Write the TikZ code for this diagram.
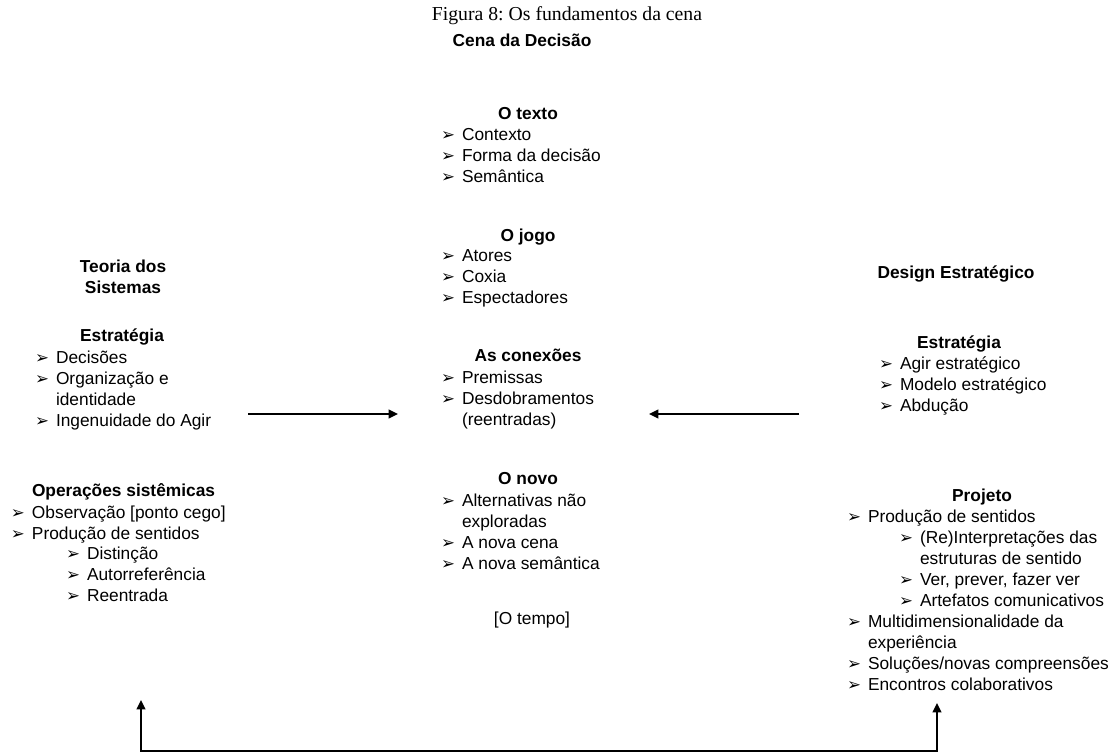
\documentclass[tikz,border=0pt]{standalone}
\usepackage{fontspec}
\setmainfont{Liberation Sans}
\newfontfamily\capfont{Liberation Serif}
\newfontfamily\symfont{DejaVu Sans}
\usetikzlibrary{arrows.meta}
\frenchspacing

% arrowhead bullet
\newcommand\bul{{\symfont\fontsize{12.5}{12.5}\selectfont ➢}}
% bulleted block: first column holds the bullet, second the text
\newenvironment{blist}{\begin{tabular}[t]{@{}p{15.75pt}@{}l@{}}}{\end{tabular}}

\tikzset{
  body/.style={inner sep=0pt, outer sep=0pt, font=\fontsize{13}{15.75}\selectfont},
  head/.style={body, anchor=base, font=\fontsize{13}{15.75}\selectfont\bfseries},
  items/.style={body, anchor=base west},
  link/.style={line width=1.5pt, -{Triangle[length=7pt,width=6.5pt]}},
}

\begin{document}
\begin{tikzpicture}[x=0.75pt, y=-0.75pt]
\useasboundingbox (0,0) rectangle (1112,753);

% title lines
\node[inner sep=0pt, anchor=base, font=\capfont\fontsize{14.8}{17}\selectfont] (caption) at (567,21) {Figura 8: Os fundamentos da cena};
\node[head] (scene) at (522,46) {Cena da Decisão};

% centre column
\node[head] (texto) at (528,119) {O texto};
\node[items] (textoL) at (441,140) {\begin{blist}
  \bul & Contexto\\
  \bul & Forma da decisão\\
  \bul & Semântica
\end{blist}};

\node[head] (jogo) at (528,241) {O jogo};
\node[items] (jogoL) at (441,261) {\begin{blist}
  \bul & Atores\\
  \bul & Coxia\\
  \bul & Espectadores
\end{blist}};

\node[head] (conex) at (528,361) {As conexões};
\node[items] (conexL) at (441,383) {\begin{blist}
  \bul & Premissas\\
  \bul & Desdobramentos\\
       & (reentradas)
\end{blist}};

\node[head] (novo) at (528,484) {O novo};
\node[items] (novoL) at (441,506) {\begin{blist}
  \bul & Alternativas não\\
       & exploradas\\
  \bul & A nova cena\\
  \bul & A nova semântica
\end{blist}};

\node[body, anchor=base] (tempo) at (532,624) {[O tempo]};

% left column
\node[head] (teoria) at (123,272) {\begin{tabular}[t]{@{}c@{}}Teoria dos\\ Sistemas\end{tabular}};
\node[head] (estrL) at (122,341) {Estratégia};
\node[items] (estrLL) at (35,363) {\begin{blist}
  \bul & Decisões\\
  \bul & Organização e\\
       & identidade\\
  \bul & Ingenuidade do Agir
\end{blist}};

\node[body, anchor=base west, font=\fontsize{13}{15.75}\selectfont\bfseries] (oper) at (32,496) {Operações sistêmicas};
\node[items] (operL) at (11,518) {\begin{blist}
  \bul & Observação [ponto cego]\\
  \bul & Produção de sentidos
\end{blist}};
\node[items] (operS) at (66,559) {\begin{blist}
  \bul & Distinção\\
  \bul & Autorreferência\\
  \bul & Reentrada
\end{blist}};

% right column
\node[head] (design) at (956,278) {Design Estratégico};
\node[head] (estrR) at (959,348) {Estratégia};
\node[items] (estrRL) at (879,369) {\begin{blist}
  \bul & Agir estratégico\\
  \bul & Modelo estratégico\\
  \bul & Abdução
\end{blist}};

\node[head] (projeto) at (982,501) {Projeto};
\node[items] (projA) at (847,522) {\begin{blist}
  \bul & Produção de sentidos
\end{blist}};
\node[items] (projS) at (899,543) {\begin{blist}
  \bul & (Re)Interpretações das\\
       & estruturas de sentido\\
  \bul & Ver, prever, fazer ver\\
  \bul & Artefatos comunicativos
\end{blist}};
\node[items] (projB) at (847,627) {\begin{blist}
  \bul & Multidimensionalidade da\\
       & experiência\\
  \bul & Soluções/novas compreensões\\
  \bul & Encontros colaborativos
\end{blist}};

% connectors
\coordinate (lOut) at (248,414);
\coordinate (lIn)  at (398,414);
\coordinate (rOut) at (799,414);
\coordinate (rIn)  at (649,414);
\draw[link] (lOut) -- (lIn);
\draw[link] (rOut) -- (rIn);

\coordinate (bL) at (141,700);
\coordinate (bR) at (937,703);
\draw[line width=1.5pt, {Triangle[length=7pt,width=6.5pt]}-{Triangle[length=7pt,width=6.5pt]}]
  (bL) -- (bL |- 0,751) -- (bR |- 0,751) -- (bR);
\end{tikzpicture}
\end{document}
